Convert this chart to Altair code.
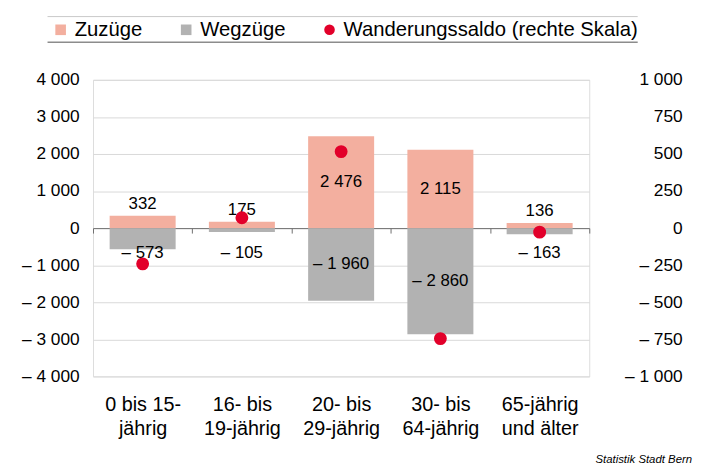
import altair as alt
import pandas as pd

categories = ["0 bis 15-\njährig", "16- bis\n19-jährig", "20- bis\n29-jährig",
              "30- bis\n64-jährig", "65-jährig\nund älter"]
zuzuege = [332, 175, 2476, 2115, 136]
wegzuege = [-573, -105, -1960, -2860, -163]
saldo = [-241, 70, 516, -745, -27]

S_ZU = "Zuzüge"
S_WEG = "Wegzüge"
S_SALDO = "Wanderungssaldo (rechte Skala)"
series_domain = [S_ZU, S_WEG, S_SALDO]
series_colors = ["#F3AF9F", "#B2B2B2", "#E2002A"]
series_shapes = ["square", "square", "circle"]
left_ticks = [-4000, -3000, -2000, -1000, 0, 1000, 2000, 3000, 4000]
right_ticks = [-1000, -750, -500, -250, 0, 250, 500, 750, 1000]


def fmt(v):
    s = f"{abs(v):,}".replace(",", " ")
    return ("– " + s) if v < 0 else s


rows = []
for c, z, w in zip(categories, zuzuege, wegzuege):
    rows.append({"cat": c, "series": S_ZU, "value": z, "label": fmt(z)})
    rows.append({"cat": c, "series": S_WEG, "value": w, "label": fmt(w)})
bars_df = pd.DataFrame(rows)
saldo_df = pd.DataFrame({"cat": categories, "series": S_SALDO, "saldo": saldo})

FONT = "Liberation Sans"
num_expr = "(datum.value < 0 ? '– ' : '') + replace(format(abs(datum.value), ','), ',', ' ')"

legend = alt.Legend(
    orient="none", legendX=-43, legendY=-61, direction="horizontal", title=None,
    labelFontSize=20.5, labelFont=FONT, labelColor="#000000", labelLimit=500,
    columnPadding=34, labelOffset=4, padding=0, symbolStrokeWidth=0,
    symbolSize=115,
)
color_scale = alt.Scale(domain=series_domain, range=series_colors)

xenc = alt.X(
    "cat:N", sort=categories, title=None,
    scale=alt.Scale(paddingInner=0, paddingOuter=0),
    axis=alt.Axis(
        orient="bottom", offset=-150, domain=True, domainColor="#6f6f6f",
        ticks=True, tickBand="extent", tickSize=5, tickColor="#6f6f6f",
        labelAngle=0, labelPadding=163, labelBaseline="top", labelFontSize=20,
        labelLineHeight=25, labelColor="#000000", labelFont=FONT,
        labelExpr="split(datum.label, '\\n')", grid=False,
    ),
)

yscale_left = alt.Scale(domain=[-4000, 4000], nice=False, zero=False)
left_axis = alt.Axis(orient="left", values=left_ticks, title=None,
                     labelExpr=num_expr, ticks=False, domain=False,
                     grid=True, gridColor="#D9D9D9", labelPadding=14,
                     labelFontSize=17.5, labelColor="#000000", labelFont=FONT)

bars = alt.Chart(bars_df).mark_bar(width=alt.RelativeBandSize(0.665)).encode(
    x=xenc,
    y=alt.Y("value:Q", scale=yscale_left, stack=None, title=None, axis=left_axis),
    color=alt.Color("series:N", scale=color_scale, legend=legend),
)

text_base = alt.Chart(bars_df)
tx = alt.X("cat:N", sort=categories)
text_big = text_base.transform_filter("abs(datum.value) >= 1000").transform_calculate(
    ly="datum.value / 2").mark_text(fontSize=17, font=FONT, color="#000000",
                                     baseline="middle").encode(
    x=tx, y=alt.Y("ly:Q", scale=yscale_left, title=None, axis=left_axis), text="label:N")
text_pos = text_base.transform_filter("datum.value > 0 && datum.value < 1000").mark_text(
    fontSize=17, font=FONT, color="#000000", baseline="bottom", dy=-3).encode(
    x=tx, y=alt.Y("value:Q", scale=yscale_left, title=None, axis=left_axis), text="label:N")
text_neg = text_base.transform_filter("datum.value < 0 && datum.value > -1000").transform_calculate(
    ly="0").mark_text(fontSize=17, font=FONT, color="#000000", baseline="middle", dy=25).encode(
    x=tx, y=alt.Y("ly:Q", scale=yscale_left, title=None, axis=left_axis), text="label:N")

left = alt.layer(bars, text_big, text_pos, text_neg)

points = alt.Chart(saldo_df).mark_point(size=170, filled=True, opacity=1).encode(
    x=alt.X("cat:N", sort=categories),
    y=alt.Y("saldo:Q", scale=alt.Scale(domain=[-1000, 1000], nice=False, zero=False), title=None,
            axis=alt.Axis(orient="right", values=right_ticks,
                          labelExpr=num_expr, ticks=False, domain=False, grid=False,
                          labelAlign="right", labelPadding=94, labelFontSize=17.5,
                          labelColor="#000000", labelFont=FONT)),
    color=alt.Color("series:N", scale=color_scale, legend=legend),
    shape=alt.Shape("series:N", scale=alt.Scale(domain=series_domain, range=series_shapes),
                    legend=legend),
)

deco = pd.DataFrame({"k": [0]})
line_top = alt.Chart(deco).mark_rule(color="#C8C8C8", strokeWidth=1).encode(
    x=alt.value(-46), x2=alt.value(551), y=alt.value(-64))
line_bot = alt.Chart(deco).mark_rule(color="#8C8C8C", strokeWidth=1.5).encode(
    x=alt.value(-46), x2=alt.value(551), y=alt.value(-38))
credit = alt.Chart(deco).mark_text(text="Statistik Stadt Bern", align="right",
                                   baseline="middle", fontSize=11.5, fontStyle="italic",
                                   font=FONT, color="#000000").encode(
    x=alt.value(606), y=alt.value(385))

chart = alt.layer(left, points, line_top, line_bot, credit).resolve_scale(
    y="independent"
).properties(
    width=502, height=300,
    autosize=alt.AutoSizeParams(type="none"),
    padding={"left": 86, "top": 70, "right": 110, "bottom": 92},
).configure_view(
    stroke="#7F7F7F", strokeWidth=1,
).configure(font=FONT)

chart.save("out.html", embed_options={"renderer": "svg", "actions": False})
